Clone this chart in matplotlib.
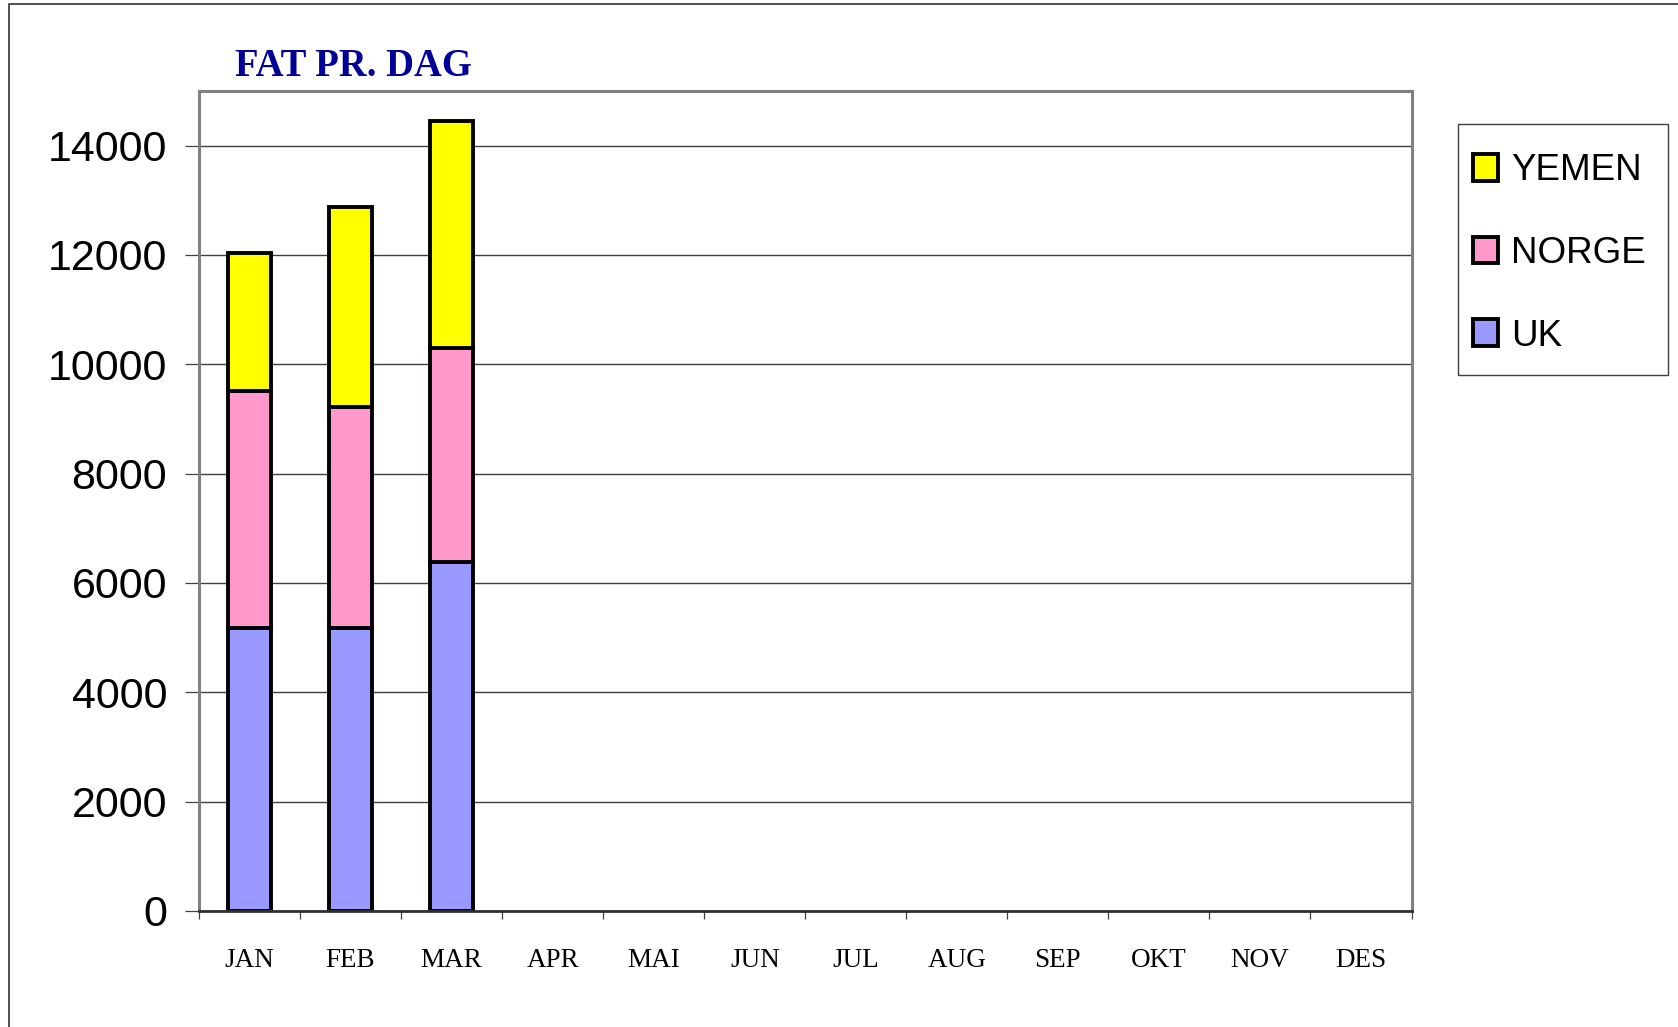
import matplotlib
matplotlib.use('Agg')
import matplotlib.pyplot as plt
from matplotlib.lines import Line2D
from matplotlib.patches import Rectangle

# data (fat per day)
months = ['JAN', 'FEB', 'MAR', 'APR', 'MAI', 'JUN', 'JUL', 'AUG', 'SEP', 'OKT', 'NOV', 'DES']
uk = [5180, 5180, 6390]
norge = [4330, 4030, 3900]
yemen = [2520, 3660, 4170]
yticks = [0, 2000, 4000, 6000, 8000, 10000, 12000, 14000]

sans = 'Liberation Sans'
W, H = 1678, 1027

fig = plt.figure(figsize=(16.78, 10.27), dpi=100)
ax = fig.add_axes([0.1186, 0.1130, 0.7226, 0.7984])

x = list(range(len(uk)))
bottom_norge = uk
bottom_yemen = [a + b for a, b in zip(uk, norge)]
w = 0.42
b1 = ax.bar(x, uk, w, color='#9999FF', edgecolor='black', linewidth=2.8, label='UK', zorder=3)
b2 = ax.bar(x, norge, w, bottom=bottom_norge, color='#FF99CC', edgecolor='black', linewidth=2.8, label='NORGE', zorder=3)
b3 = ax.bar(x, yemen, w, bottom=bottom_yemen, color='#FFFF00', edgecolor='black', linewidth=2.8, label='YEMEN', zorder=3)

ax.set_xlim(-0.5, len(months) - 0.5)
ax.set_ylim(0, 15000)

# y axis
ax.set_yticks(yticks)
ax.set_yticklabels([str(v) for v in yticks], fontsize=31, family=sans)
ax.tick_params(axis='y', direction='out', length=10, width=0.9, color='#404040', pad=13)
ax.yaxis.grid(True, color='#404040', linewidth=1.0, zorder=0)

# x axis: labels at centres, tick marks between categories
ax.set_xticks(range(len(months)))
ax.set_xticklabels(months, fontsize=19.5, family='Liberation Serif')
ax.tick_params(axis='x', which='major', length=0, pad=27)
ax.set_xticks([i - 0.5 for i in range(len(months) + 1)], minor=True)
ax.tick_params(axis='x', which='minor', direction='out', length=6, width=0.9, color='#404040')

for side in ['left', 'top', 'right']:
    ax.spines[side].set_color('#808080')
    ax.spines[side].set_linewidth(2.2)
ax.spines['bottom'].set_color('#303030')
ax.spines['bottom'].set_linewidth(2)
ax.spines['bottom'].set_zorder(4)

fig.text(235 / W, 1 - 76 / H, 'FAT PR. DAG', fontsize=27.8, fontweight='bold',
         family='Liberation Serif', color='#000099', va='baseline', ha='left')

# legend entries without own frame; the box is drawn separately
leg = ax.legend(handles=[b3, b2, b1], loc='upper left',
                bbox_to_anchor=(1473 / W, 1 - 153 / H), bbox_transform=fig.transFigure,
                borderaxespad=0, frameon=False, prop={'family': sans, 'size': 26.5},
                handlelength=0.68, handleheight=0.75, handletextpad=0.35,
                labelspacing=1.3, borderpad=0)
fig.add_artist(Rectangle((1458 / W, 1 - 375 / H), 210 / W, 251 / H, transform=fig.transFigure,
                         facecolor='white', edgecolor='#404040', linewidth=1.0, zorder=0))

# outer border of the chart area
fig.add_artist(Line2D([9 / W, 9 / W, 1.01], [-0.01, 1 - 4 / H, 1 - 4 / H],
                      transform=fig.transFigure, color='#202020', linewidth=1.1))

fig.savefig('out.png', dpi=100)
